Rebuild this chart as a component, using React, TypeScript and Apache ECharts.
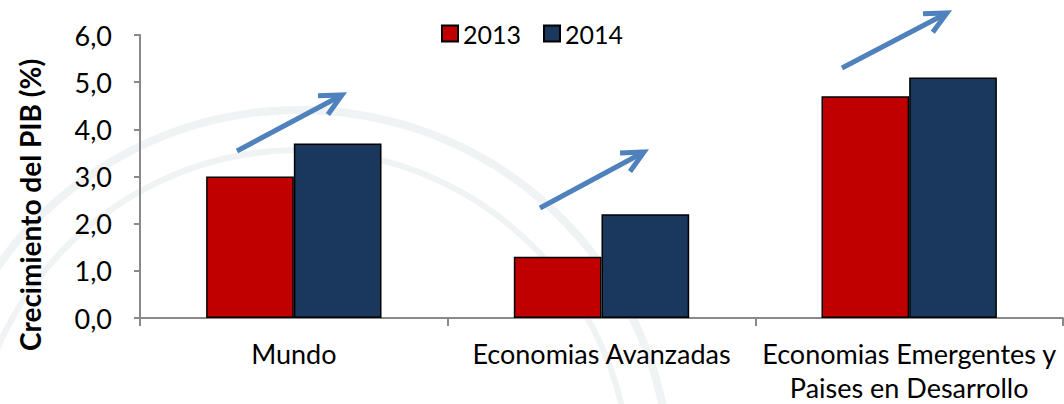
import React, { useEffect, useRef } from "react";
import * as echarts from "echarts";

const categories = ["Mundo", "Economias Avanzadas", "Economias Emergentes y\nPaises en Desarrollo"];
const seriesNames = ["2013", "2014"];
const values2013 = [3.0, 1.3, 4.7];
const values2014 = [3.7, 2.2, 5.1];
const yTicks = { min: 0, max: 6, interval: 1 };
const yTitle = "Crecimiento del PIB (%)";

// annotation arrows (layout, pixel space): [startX, startY, tipX, tipY]
const ARROWS = [
  [237, 151, 342, 95],
  [540, 208, 644, 152],
  [842, 68, 947, 13],
];

const FONT = "Lato";

function arrowGraphics() {
  const out: any[] = [];
  ARROWS.forEach(([x1, y1, x2, y2]) => {
    const dx = x1 - x2, dy = y1 - y2;
    const len = Math.hypot(dx, dy);
    const ux = dx / len, uy = dy / len;
    const armLen = 24, ang = (26 * Math.PI) / 180;
    const rot = (a: number) => [ux * Math.cos(a) - uy * Math.sin(a), ux * Math.sin(a) + uy * Math.cos(a)];
    const [ax, ay] = rot(ang);
    const [bx, by] = rot(-ang);
    const style = { stroke: "#4F81BD", lineWidth: 5, fill: null, lineCap: "butt", lineJoin: "miter" };
    out.push({ type: "line", silent: true, z: 100, shape: { x1, y1, x2: x2 + ux * 2, y2: y2 + uy * 2 }, style });
    out.push({
      type: "polyline", silent: true, z: 100,
      shape: { points: [[x2 + ax * armLen, y2 + ay * armLen], [x2, y2], [x2 + bx * armLen, y2 + by * armLen]] },
      style,
    });
  });
  return out;
}

export default function App() {
  const ref = useRef<HTMLDivElement>(null);
  useEffect(() => {
    if (!ref.current) return;
    const chart = echarts.init(ref.current, null, { renderer: "svg" });
    const barStyle = (color: string) => ({ color, borderColor: "#000", borderWidth: 1.5 });
    chart.setOption({
      animation: false,
      backgroundColor: "#fff",
      textStyle: { fontFamily: FONT },
      legend: {
        top: 16,
        left: "center",
        itemWidth: 16,
        itemHeight: 16,
        itemGap: 22,
        icon: "rect",
        textStyle: { fontFamily: FONT, fontSize: 25, color: "#000" },
        data: seriesNames,
      },
      grid: { left: 140, right: 1, top: 35, bottom: 82, containLabel: false },
      xAxis: {
        type: "category",
        data: categories,
        axisLine: { lineStyle: { color: "#898989", width: 2 } },
        axisTick: { show: true, length: 8, lineStyle: { color: "#898989", width: 2 } },
        axisLabel: { fontFamily: FONT, fontSize: 27, color: "#000", margin: 18, lineHeight: 34, interval: 0 },
      },
      yAxis: {
        type: "value",
        min: yTicks.min,
        max: yTicks.max,
        interval: yTicks.interval,
        splitLine: { show: false },
        axisLine: { show: true, lineStyle: { color: "#898989", width: 2 } },
        axisTick: { show: true, length: 6, lineStyle: { color: "#898989", width: 2 } },
        axisLabel: {
          fontFamily: FONT, fontSize: 27, color: "#000", margin: 28,
          formatter: (v: number) => v.toFixed(1).replace(".", ","),
        },
      },
      series: [
        { name: seriesNames[0], type: "bar", data: values2013, barGap: "0%", barCategoryGap: "43%", itemStyle: barStyle("#C00000") },
        { name: seriesNames[1], type: "bar", data: values2014, barGap: "0%", barCategoryGap: "43%", itemStyle: barStyle("#1A375E") },
      ],
      graphic: [
        { type: "circle", silent: true, z: -10, shape: { cx: 300, cy: 480, r: 370 }, style: { fill: null, stroke: "#eff3f3", lineWidth: 8 } },
        { type: "circle", silent: true, z: -10, shape: { cx: 300, cy: 480, r: 330 }, style: { fill: null, stroke: "#eff3f3", lineWidth: 6 } },
        {
          type: "text", silent: true, z: 100,
          x: 30, y: 205, rotation: Math.PI / 2,
          style: { text: yTitle, fontFamily: FONT, fontSize: 28, fontWeight: "bold", fill: "#000", align: "center", verticalAlign: "middle" },
        },
        ...arrowGraphics(),
      ],
    });
    return () => chart.dispose();
  }, []);
  return <div ref={ref} style={{ width: 1064, height: 404, position: "absolute", left: 0, top: 0 }} />;
}
